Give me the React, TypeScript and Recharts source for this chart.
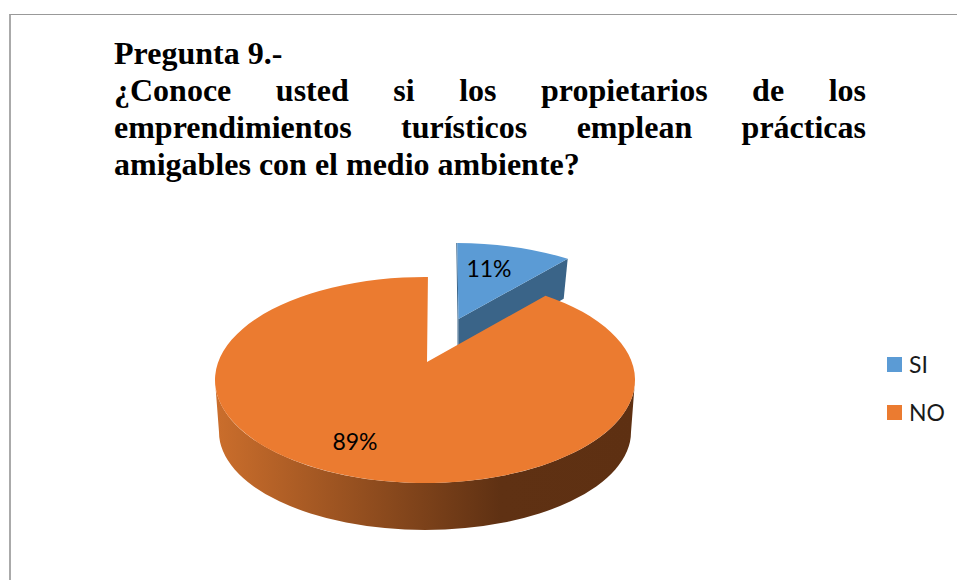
import React from 'react';
import { PieChart, Pie, Cell, Legend } from 'recharts';

const categories = ['SI', 'NO'];
const shares = [11, 89];
const colors = ['#5B9BD5', '#EB7B30'];
const chartData = categories.map((name, i) => ({ name, value: shares[i] }));
const titleHead = 'Pregunta 9.-';
const titleBody = [
  '¿Conoce usted si los propietarios de los',
  'emprendimientos turísticos emplean prácticas',
];
const titleLast = 'amigables con el medio ambiente?';

const RY = 103;
const sliceLook: Record<string, any> = {
  SI: { dx: 31, dy: -34, apexX: 33.5, apexY: -61, k: 0.8, trimStart: 0.006, trimEnd: 0 },
  NO: { dx: 0, dy: 0, apexX: 2, apexY: -18, k: 0.876, trimStart: 0, trimEnd: -0.014 },
};
const labelAt: Record<string, [number, number]> = {
  SI: [489, 268],
  NO: [355, 441],
};

function paramAngle(deg: number, k: number) {
  const theta = ((90 - deg) * Math.PI) / 180;
  return 2 * Math.atan2(k * Math.sin(theta / 2), Math.cos(theta / 2));
}

function Slice3D(props: any) {
  const { cx, cy, outerRadius: rx, startAngle, endAngle, payload, name } = props;
  const key = payload?.name ?? name;
  const look = sliceLook[key];
  const fill = colors[categories.indexOf(key)];
  const ox = cx + look.dx;
  const oy = cy + look.dy;
  const t0 = paramAngle(startAngle, look.k) + look.trimStart;
  const t1 = paramAngle(endAngle, look.k) - look.trimEnd;
  const pt = (t: number) => [ox + rx * Math.sin(t), oy - RY * Math.cos(t)];
  const [x0, y0] = pt(t0);
  const [x1, y1] = pt(t1);
  const ax = cx + look.apexX;
  const ay = cy + look.apexY;
  const large = t1 - t0 > Math.PI ? 1 : 0;
  const top = `M${ax},${ay} L${x0},${y0} A${rx},${RY} 0 ${large} 1 ${x1},${y1} Z`;

  if (key === 'SI') {
    return (
      <g>
        <path
          d={`M${ax},${ay} L${x1},${y1} L${x1 - 4},${y1 + 40} L${ax},${ay + 39} Z`}
          fill="#3A6488"
        />
        <path d={`M${x0 - 0.5},${y0} L${ax - 0.5},${ay} L${ax - 0.5},${ay + 30}`} fill="none" stroke="#3A6488" strokeWidth={1} />
        <path d={top} fill={fill} />
      </g>
    );
  }
  const bottomCy = cy + 52;
  const bottomRx = rx - 4;
  return (
    <g>
      <path
        d={`M${cx - rx},${cy} A${rx},${RY} 0 0 0 ${cx + rx},${cy} L${cx + bottomRx},${bottomCy} A${bottomRx},98 0 0 1 ${cx - bottomRx},${bottomCy} Z`}
        fill="url(#orangeWall)"
      />
      <path d={top} fill={fill} />
    </g>
  );
}

function SliceLabel(props: any) {
  const key = props.payload?.name ?? props.name;
  const [x, y] = labelAt[key];
  return (
    <text x={x} y={y} textAnchor="middle" dominantBaseline="central" fontFamily="Lato, 'Open Sans', sans-serif" fontSize={23} fill="#000">
      {`${props.value}%`}
    </text>
  );
}

function LegendBox(props: any) {
  const items = props.payload ?? [];
  return (
    <div style={{ position: 'relative', width: 70, height: 70 }}>
      {items.map((it: any, i: number) => (
        <div key={it.value} style={{ position: 'absolute', left: 0, top: i * 48, height: 15, display: 'flex', alignItems: 'center' }}>
          <span style={{ display: 'inline-block', width: 15, height: 15, background: colors[categories.indexOf(it.value)], marginRight: 7 }} />
          <span style={{ fontFamily: "Lato, 'Open Sans', sans-serif", fontSize: 23, lineHeight: '15px', color: '#1a1a1a' }}>{it.value}</span>
        </div>
      ))}
    </div>
  );
}

export default function App() {
  return (
    <div style={{ position: 'absolute', left: 0, top: 0, width: 957, height: 580, overflow: 'hidden', background: '#fff' }}>
      <div style={{ position: 'absolute', left: 9, top: 14, right: 0, bottom: 0, borderLeft: '2px solid #aaa', borderTop: '1px solid #999' }} />
      <PieChart width={957} height={580} style={{ position: 'absolute', left: 0, top: 0 }} margin={{ top: 0, right: 0, bottom: 0, left: 0 }}>
        <defs>
          <linearGradient id="orangeWall" x1="0" y1="0" x2="1" y2="0">
            <stop offset="0" stopColor="#CB6E2C" />
            <stop offset="0.68" stopColor="#5F3113" />
            <stop offset="1" stopColor="#5E3012" />
          </linearGradient>
        </defs>
        <Pie
          data={chartData}
          dataKey="value"
          nameKey="name"
          cx={425}
          cy={380}
          innerRadius={0}
          outerRadius={210}
          startAngle={90}
          endAngle={-270}
          stroke="none"
          shape={Slice3D}
          label={SliceLabel}
          labelLine={false}
          isAnimationActive={false}
        >
          {categories.map((c, i) => (
            <Cell key={c} fill={colors[i]} />
          ))}
        </Pie>
        <Legend
          layout="vertical"
          content={LegendBox}
          itemSorter={null}
          wrapperStyle={{ position: 'absolute', left: 887, top: 357, width: 70, height: 70 }}
        />
      </PieChart>
      <div style={{ position: 'absolute', left: 114, top: 35, width: 752, fontFamily: "'Liberation Serif', serif", fontWeight: 700, fontSize: 32, lineHeight: '37px', color: '#000' }}>
        <div>{titleHead}</div>
        {titleBody.map((line) => (
          <div key={line} style={{ textAlign: 'justify', textAlignLast: 'justify' }}>{line}</div>
        ))}
        <div>{titleLast}</div>
      </div>
    </div>
  );
}
